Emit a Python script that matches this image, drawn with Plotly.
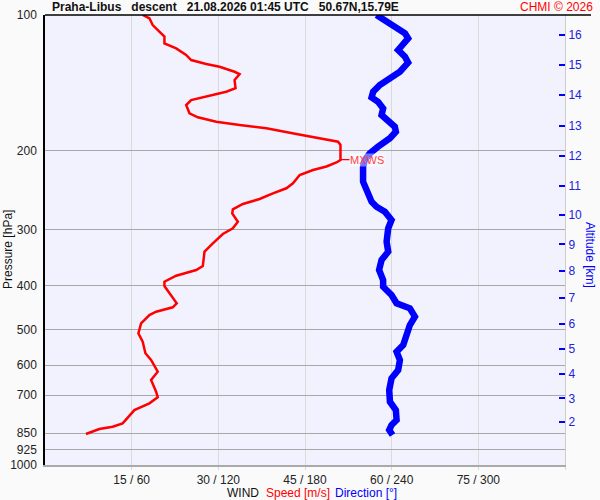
import plotly.graph_objects as go
import math

# ---- data ----
speed_ms = [16.91, 18.07, 18.64, 19.80, 20.67, 20.67, 22.70, 24.43, 25.30, 27.90,
            30.21, 32.81, 33.68, 32.81, 32.98, 31.37, 27.90, 25.30, 24.43, 25.01,
            26.45, 29.64, 33.68, 38.31, 43.51, 47.55, 50.72, 51.14, 51.14, 50.44,
            48.71, 46.39, 44.08, 42.92, 41.77, 39.45, 37.14, 34.25, 32.51, 32.41,
            33.38, 32.51, 30.78, 29.05, 27.61, 27.31, 26.17, 22.70, 20.67, 20.67,
            21.83, 22.80, 22.11, 19.23, 18.07, 16.63, 16.16, 16.91, 17.38, 18.36,
            19.51, 18.36, 19.23, 19.51, 18.07, 15.47, 13.44, 11.71, 9.40, 7.09]
speed_p = [100.0, 101.7, 105.3, 108.9, 111.7, 115.6, 118.6, 122.7, 125.9, 128.5,
           130.3, 133.7, 135.3, 139.5, 145.5, 148.1, 151.9, 154.5, 158.5, 165.4,
           168.8, 172.6, 175.6, 178.6, 183.9, 187.9, 191.2, 194.5, 210.0, 212.7,
           217.1, 221.0, 226.8, 236.6, 242.7, 249.0, 256.4, 263.0, 270.3, 275.9,
           288.0, 297.8, 306.7, 321.6, 335.7, 361.3, 368.8, 379.7, 391.5, 400.2,
           419.0, 437.2, 446.3, 456.4, 464.2, 484.4, 509.8, 532.1, 564.6, 584.3,
           620.5, 647.4, 687.3, 707.3, 729.4, 754.9, 808.0, 822.1, 831.8, 853.4]

dir_deg = [229.5, 235.3, 241.0, 249.2, 251.4, 246.9, 244.5, 249.2, 251.4, 245.7,
           238.8, 231.8, 227.2, 226.1, 230.6, 234.1, 233.0, 236.5, 242.2, 242.9,
           238.8, 230.6, 224.9, 221.4, 220.2, 220.2, 223.7, 226.1, 229.5, 235.3,
           239.9, 237.6, 236.5, 237.6, 233.0, 231.3, 234.1, 234.1, 239.9, 243.4,
           252.6, 256.1, 252.6, 249.2, 248.0, 243.4, 245.7, 244.5, 239.9, 238.3,
           238.8, 242.9, 243.4, 239.9, 238.3, 240.6]
dir_p = [100.0, 102.6, 106.2, 109.8, 112.7, 116.6, 119.6, 123.8, 127.6, 133.7,
         138.3, 143.1, 148.1, 152.4, 155.9, 161.3, 166.8, 171.1, 177.1, 181.7,
         187.9, 196.2, 203.0, 210.0, 217.7, 234.6, 247.0, 260.0, 266.7, 273.6,
         285.5, 297.8, 319.0, 335.7, 350.4, 368.8, 388.1, 401.6, 419.0, 437.2,
         448.5, 468.2, 488.6, 518.7, 541.2, 560.1, 584.3, 615.1, 641.8, 681.3,
         723.5, 754.9, 794.3, 815.0, 836.1, 857.7]

mxws_speed = 51.14
mxws_p = 209.5

p_ticks = [100, 200, 300, 400, 500, 600, 700, 850, 925, 1000]
p_labels = ["100", "200", "300", "400", "500", "600", "700", "850", "925", "1000"]

x_ticks = [15, 30, 45, 60, 75, 90]
x_labels = ["15 / 60", "30 / 120", "45 / 180", "60 / 240", "75 / 300", ""]

alt_km = ["16", "15", "14", "13", "12", "11", "10", "9", "8", "7", "6", "5", "4", "3", "2"]
alt_p = [110.6, 129.2, 150.8, 176.2, 205.8, 239.5, 278.3, 323.3, 370.0, 424.9,
         486.0, 552.5, 627.9, 710.9, 802.6]

title_text = ("Praha-Libus\u00a0\u00a0\u00a0descent\u00a0\u00a0\u00a021.08.2026 01:45 UTC"
              "\u00a0\u00a0\u00a050.67N,15.79E")

RED = "#ff0000"
BLUE = "#0000ff"
FONT = "Liberation Sans, Arial, sans-serif"

fig = go.Figure()
fig.add_trace(go.Scatter(x=speed_ms, y=speed_p, mode="lines",
                         line=dict(color=RED, width=2.5), hoverinfo="skip",
                         xaxis="x", yaxis="y", showlegend=False))
fig.add_trace(go.Scatter(x=dir_deg, y=dir_p, mode="lines",
                         line=dict(color=BLUE, width=6.5), hoverinfo="skip",
                         xaxis="x2", yaxis="y", showlegend=False))
fig.add_trace(go.Scatter(x=[0], y=[alt_p[0]], mode="markers",
                         marker=dict(opacity=0), hoverinfo="skip",
                         xaxis="x", yaxis="y2", showlegend=False))

fig.update_layout(
    width=600, height=500,
    margin=dict(l=45, r=35, t=15, b=35, autoexpand=False),
    paper_bgcolor="#fafafa",
    plot_bgcolor="#f2f2ff",
    font=dict(family=FONT, size=12, color="#222222"),
    xaxis=dict(range=[0, 90], tickvals=x_ticks, ticktext=x_labels, automargin=False,
               showgrid=True, gridcolor="#dadada", gridwidth=1,
               ticks="outside", ticklen=3, tickcolor="#dadada",
               showline=True, linecolor="#aaaaaa", linewidth=1.5,
               zeroline=False, tickfont=dict(size=12, color="#222")),
    xaxis2=dict(range=[0, 360], overlaying="x", visible=False, automargin=False),
    yaxis=dict(type="log", range=[math.log10(1000), math.log10(100)], automargin=False,
               tickvals=p_ticks, ticktext=p_labels,
               showgrid=True, gridcolor="#a8a8a8", gridwidth=1,
               ticks="outside", ticklen=4, tickcolor="rgba(0,0,0,0)",
               showline=True, linecolor="#000000", linewidth=1.5,
               zeroline=False, tickfont=dict(size=12, color="#222")),
    yaxis2=dict(type="log", range=[math.log10(1000), math.log10(100)], automargin=False,
                overlaying="y", side="right",
                tickvals=alt_p, ticktext=alt_km,
                ticks="inside", ticklen=6, tickwidth=1.5, tickcolor=BLUE,
                showgrid=False, showline=True, linecolor="#cccccc", linewidth=1,
                zeroline=False, tickfont=dict(size=12, color="#2222dd")),
)

# top border line extending under title
fig.add_shape(type="line", xref="paper", yref="paper", x0=0, x1=1.05, y0=1, y1=1,
              line=dict(color="#000000", width=1.5))
# MXWS side markers
fig.add_shape(type="line", xref="paper", yref="y", x0=-0.004, x1=0.021,
              y0=math.log10(mxws_p), y1=math.log10(mxws_p), line=dict(color=RED, width=1.2))
fig.add_shape(type="line", xref="paper", yref="y", x0=0.981, x1=0.996,
              y0=math.log10(mxws_p), y1=math.log10(mxws_p), line=dict(color=RED, width=1.2))

fig.add_annotation(x=mxws_speed, y=math.log10(mxws_p), xref="x", yref="y",
                   text="MXWS", showarrow=True, arrowhead=0, arrowcolor=RED,
                   arrowwidth=1.2, ax=9, ay=0, xanchor="left",
                   font=dict(size=11, color="#ff4444"),
                   bgcolor="rgba(255,255,255,0.45)", borderpad=0)

fig.add_annotation(x=0.01, y=1.018, xref="paper", yref="paper", text="<b>" + title_text + "</b>",
                   showarrow=False, xanchor="left", yanchor="middle",
                   font=dict(size=12, color="#111"))
fig.add_annotation(x=1.058, y=1.018, xref="paper", yref="paper", text="CHMI © 2026",
                   showarrow=False, xanchor="right", yanchor="middle",
                   font=dict(size=12, color=RED))
fig.add_annotation(x=-0.071, y=0.478, xref="paper", yref="paper", text="Pressure [hPa]",
                   showarrow=False, textangle=-90, xanchor="center", yanchor="middle",
                   font=dict(size=12, color="#111"))
fig.add_annotation(x=1.048, y=0.467, xref="paper", yref="paper", text="Altitude [km]",
                   showarrow=False, textangle=90, xanchor="center", yanchor="middle",
                   font=dict(size=12, color=BLUE))
for txt, xp, col in [("WIND", 0.3462, "#111111"), ("Speed [m/s]", 0.4212, RED),
                     ("Direction [°]", 0.5538, BLUE)]:
    fig.add_annotation(x=xp, y=-0.063, xref="paper", yref="paper", text=txt,
                       showarrow=False, xanchor="left", yanchor="middle",
                       font=dict(size=12, color=col))

fig.write_html("out.html", config={"displayModeBar": False},
               post_script="document.body.style.margin='0';document.body.style.overflow='hidden';")
